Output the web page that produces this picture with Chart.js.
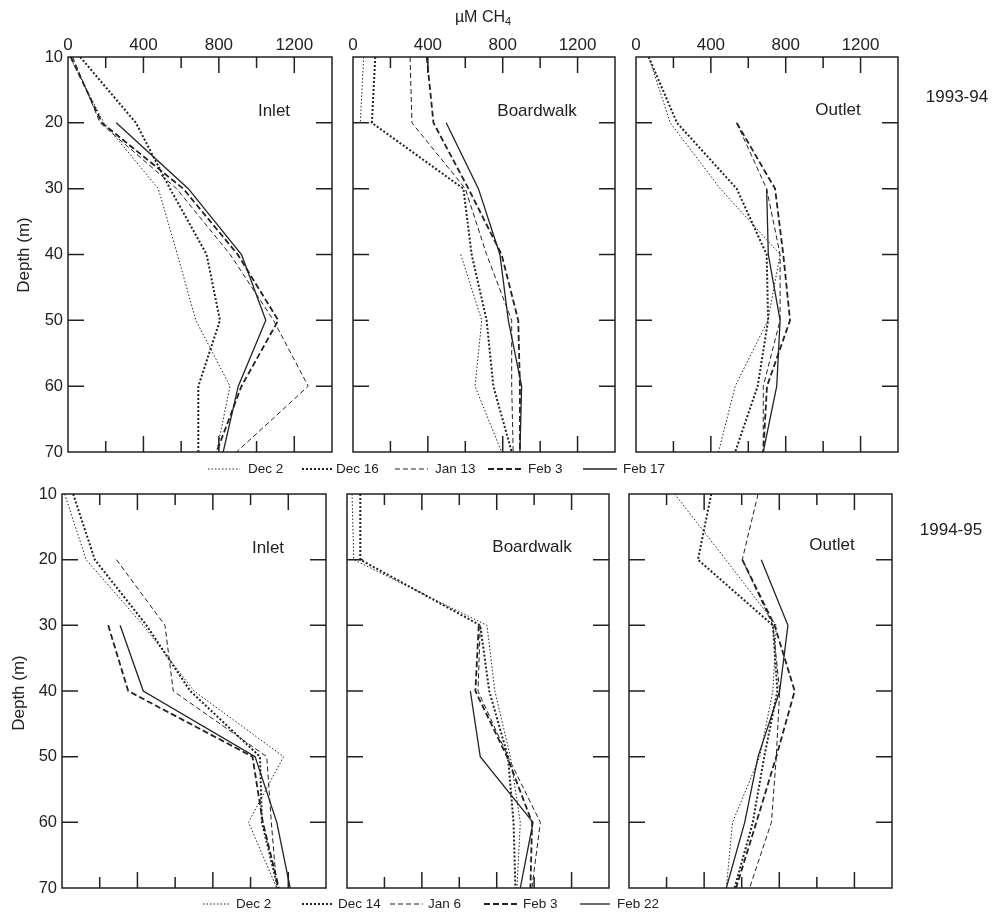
<!DOCTYPE html>
<html><head><meta charset="utf-8">
<script src="https://cdn.jsdelivr.net/npm/chart.js@4.4.0/dist/chart.umd.min.js"></script>
<style>
html,body{margin:0;padding:0;background:#fff;}
body{width:993px;height:913px;position:relative;overflow:hidden;font-family:"Liberation Sans",Arial,sans-serif;color:#222;}
canvas{position:absolute;}
.t{position:absolute;white-space:nowrap;line-height:1;}
.lg{position:absolute;white-space:nowrap;font-size:13.5px;line-height:1;transform:translateY(-50%);}
svg{position:absolute;overflow:visible;}
</style></head><body>
<script>
// ---------- DATA ----------
const depths = [10, 20, 30, 40, 50, 60, 70];            // m
const xTickLabels = [0, 400, 800, 1200];                // µM CH4
const xTickMarks = [200, 400, 600, 800, 1000, 1200];
const yTickMarks = [20, 30, 40, 50, 60];
const sites = ['Inlet', 'Boardwalk', 'Outlet'];
const years = ['1993-94', '1994-95'];
const dates9394 = ['Dec 2', 'Dec 16', 'Jan 13', 'Feb 3', 'Feb 17'];
const dates9495 = ['Dec 2', 'Dec 14', 'Jan 6', 'Feb 3', 'Feb 22'];

// 1993-94
const inlet93_dec2  = [10, 190, 479, 580, 678, 859, 788];
const inlet93_dec16 = [65, 360, 541, 735, 806, 691, 691];
const inlet93_jan13 = [25, 170, 576, 860, 1090, 1274, 894];
const inlet93_feb3  = [15, 180, 611, 900, 1115, 920, 788];
const inlet93_feb17 = [null, 256, 638, 920, 1049, 903, 823];

const board93_dec2  = [57, 39, null, 576, 688, 652, 794];
const board93_dec16 = [119, 101, 590, 634, 714, 750, 848];
const board93_jan13 = [305, 315, 600, 714, 848, 848, 856];
const board93_feb3  = [394, 430, 617, 794, 883, 892, 892];
const board93_feb17 = [null, 498, 670, 785, 830, 901, 892];

const outlet93_dec2  = [68, 183, 450, 770, 705, 530, 441];
const outlet93_dec16 = [68, 219, 538, 698, 706, 650, 530];
const outlet93_jan13 = [null, 538, 698, 770, 770, 680, 680];
const outlet93_feb3  = [null, 538, 743, 787, 823, 700, 680];
const outlet93_feb17 = [null, null, 698, 707, 770, 752, 680];

// 1994-95
const inlet94_dec2  = [14, 128, 431, 700, 1175, 989, 1139];
const inlet94_dec14 = [59, 174, 448, 680, 1050, 1060, 1145];
const inlet94_jan6  = [null, 289, 546, 590, 1086, 1110, 1139];
const inlet94_feb3  = [null, null, 245, 351, 1010, 1065, 1150];
const inlet94_feb22 = [null, null, 308, 431, 1024, 1139, 1210];

const board94_dec2  = [27, 36, 748, 790, 873, 926, 908];
const board94_dec14 = [71, 71, 712, 760, 860, 890, 900];
const board94_jan6  = [null, null, 712, 700, 860, 1033, 988];
const board94_feb3  = [null, null, 704, 686, 855, 989, 980];
const board94_feb22 = [null, null, null, 659, 712, 994, 926];

const outlet94_dec2  = [243, 515, 784, 766, 696, 551, 518];
const outlet94_dec14 = [438, 367, 766, 790, 720, 659, 562];
const outlet94_jan6  = [687, 603, 766, 802, 784, 758, 642];
const outlet94_feb3  = [null, 603, 775, 882, 784, 678, 570];
const outlet94_feb22 = [null, 704, 846, 802, 687, 616, 518];

// ---------- LAYOUT / STYLE ----------
const FONT = '"Liberation Sans", Arial, sans-serif';
const INK = '#222';
const lineStyles = [
  {borderWidth: 1,   borderDash: [1.5, 2]},
  {borderWidth: 2,   borderDash: [2, 2]},
  {borderWidth: 1,   borderDash: [5, 3]},
  {borderWidth: 1.8, borderDash: [6, 3]},
  {borderWidth: 1.3, borderDash: []}
];
const ML = 50, MT = 34, MR = 20, MB = 16;
const panels = [
  {box:[68,57,332,452],  series:[inlet93_dec2,inlet93_dec16,inlet93_jan13,inlet93_feb3,inlet93_feb17], names:dates9394, xl:true,  yl:true,  site:0, tp:[274,110]},
  {box:[353,57,615,452], series:[board93_dec2,board93_dec16,board93_jan13,board93_feb3,board93_feb17], names:dates9394, xl:true,  yl:false, site:1, tp:[537,110]},
  {box:[636,57,898,452], series:[outlet93_dec2,outlet93_dec16,outlet93_jan13,outlet93_feb3,outlet93_feb17], names:dates9394, xl:true, yl:false, site:2, tp:[838,109]},
  {box:[62,494,326,888], series:[inlet94_dec2,inlet94_dec14,inlet94_jan6,inlet94_feb3,inlet94_feb22], names:dates9495, xl:false, yl:true,  site:0, tp:[268,547]},
  {box:[347,494,609,888],series:[board94_dec2,board94_dec14,board94_jan6,board94_feb3,board94_feb22], names:dates9495, xl:false, yl:false, site:1, tp:[532,546]},
  {box:[629,494,892,888],series:[outlet94_dec2,outlet94_dec14,outlet94_jan6,outlet94_feb3,outlet94_feb22], names:dates9495, xl:false, yl:false, site:2, tp:[832,544]}
];

const framePlugin = {
  id: 'frame',
  afterDatasetsDraw(chart) {
    const {ctx, chartArea: a, scales: {x, y}} = chart;
    ctx.save();
    ctx.strokeStyle = INK;
    ctx.lineWidth = 1.5;
    ctx.strokeRect(a.left, a.top, a.right - a.left, a.bottom - a.top);
    ctx.beginPath();
    xTickMarks.forEach(v => {
      const px = x.getPixelForValue(v);
      const len = v % 400 === 0 ? 16 : 11;
      ctx.moveTo(px, a.top); ctx.lineTo(px, a.top + len);
      ctx.moveTo(px, a.bottom); ctx.lineTo(px, a.bottom - len);
    });
    yTickMarks.forEach(v => {
      const py = y.getPixelForValue(v);
      ctx.moveTo(a.left, py); ctx.lineTo(a.left + 16, py);
      ctx.moveTo(a.right, py); ctx.lineTo(a.right - 16, py);
    });
    ctx.stroke();
    ctx.restore();
  }
};

function addText(html, x, y, size, rot) {
  const d = document.createElement('div');
  d.className = 't';
  d.innerHTML = html;
  d.style.left = x + 'px'; d.style.top = y + 'px';
  d.style.fontSize = size + 'px';
  d.style.transform = 'translate(-50%,-50%)' + (rot ? ' rotate(' + rot + 'deg)' : '');
  document.body.appendChild(d);
}

panels.forEach(p => {
  const [l, t, r, b] = p.box;
  const cv = document.createElement('canvas');
  const W = r - l + ML + MR, H = b - t + MT + MB;
  cv.width = W; cv.height = H;
  cv.style.left = (l - ML) + 'px'; cv.style.top = (t - MT) + 'px';
  cv.style.width = W + 'px'; cv.style.height = H + 'px';
  document.body.appendChild(cv);
  new Chart(cv, {
    type: 'line',
    data: {
      datasets: p.series.map((vals, i) => ({
        label: p.names[i],
        data: vals.map((v, k) => ({x: v, y: depths[k]})),
        borderColor: INK,
        borderWidth: lineStyles[i].borderWidth,
        borderDash: lineStyles[i].borderDash,
        pointRadius: 0,
        fill: false,
        tension: 0,
        spanGaps: false
      }))
    },
    options: {
      indexAxis: 'y',
      responsive: false,
      animation: false,
      devicePixelRatio: 1,
      layout: {padding: {left: 0, top: 0, right: MR, bottom: MB}},
      plugins: {legend: {display: false}, tooltip: {enabled: false}},
      scales: {
        x: {
          type: 'linear', position: 'top', min: 0, max: 1400,
          grid: {display: false, drawTicks: false}, border: {display: false},
          ticks: {display: p.xl, color: INK, font: {family: FONT, size: 17}, padding: 1, maxRotation: 0,
                  callback: v => String(v)},
          afterBuildTicks: s => { s.ticks = xTickLabels.map(v => ({value: v})); },
          afterFit: s => { s.height = MT; }
        },
        y: {
          type: 'linear', position: 'left', reverse: true, min: 10, max: 70,
          grid: {display: false, drawTicks: false}, border: {display: false},
          ticks: {display: p.yl, color: INK, font: {family: FONT, size: 16.5}, padding: 5,
                  callback: v => String(v)},
          afterBuildTicks: s => { s.ticks = depths.map(v => ({value: v})); },
          afterFit: s => { s.width = ML; }
        }
      }
    },
    plugins: [framePlugin]
  });
  addText(sites[p.site], p.tp[0], p.tp[1], 17);
});

// axis titles and row labels
addText('µM CH<sub style="font-size:11px;vertical-align:-3px">4</sub>', 483, 18, 16);
addText('Depth (m)', 23, 255, 17, -90);
addText('Depth (m)', 18, 693, 17, -90);
addText(years[0], 957, 96, 17);
addText(years[1], 951, 529, 17);

// legends
const legendRows = [
  {y: 469, names: dates9394, items: [[208,240,248],[302,333,336],[395,428,435],[488,522,528],[583,617,623]]},
  {y: 904, names: dates9495, items: [[203,231,236],[302,332,338],[390,423,428],[484,517,523],[580,610,617]]}
];
legendRows.forEach(row => {
  row.items.forEach((it, i) => {
    const [x1, x2, tx] = it;
    const ns = 'http://www.w3.org/2000/svg';
    const svg = document.createElementNS(ns, 'svg');
    svg.setAttribute('width', x2 - x1); svg.setAttribute('height', 4);
    svg.style.left = x1 + 'px'; svg.style.top = (row.y - 2) + 'px';
    const ln = document.createElementNS(ns, 'line');
    ln.setAttribute('x1', 0); ln.setAttribute('x2', x2 - x1);
    ln.setAttribute('y1', 2); ln.setAttribute('y2', 2);
    ln.setAttribute('stroke', INK);
    ln.setAttribute('stroke-width', lineStyles[i].borderWidth);
    if (lineStyles[i].borderDash.length) ln.setAttribute('stroke-dasharray', lineStyles[i].borderDash.join(' '));
    svg.appendChild(ln);
    document.body.appendChild(svg);
    const d = document.createElement('div');
    d.className = 'lg';
    d.textContent = row.names[i];
    d.style.left = tx + 'px'; d.style.top = row.y + 'px';
    document.body.appendChild(d);
  });
});
</script>
</body></html>
